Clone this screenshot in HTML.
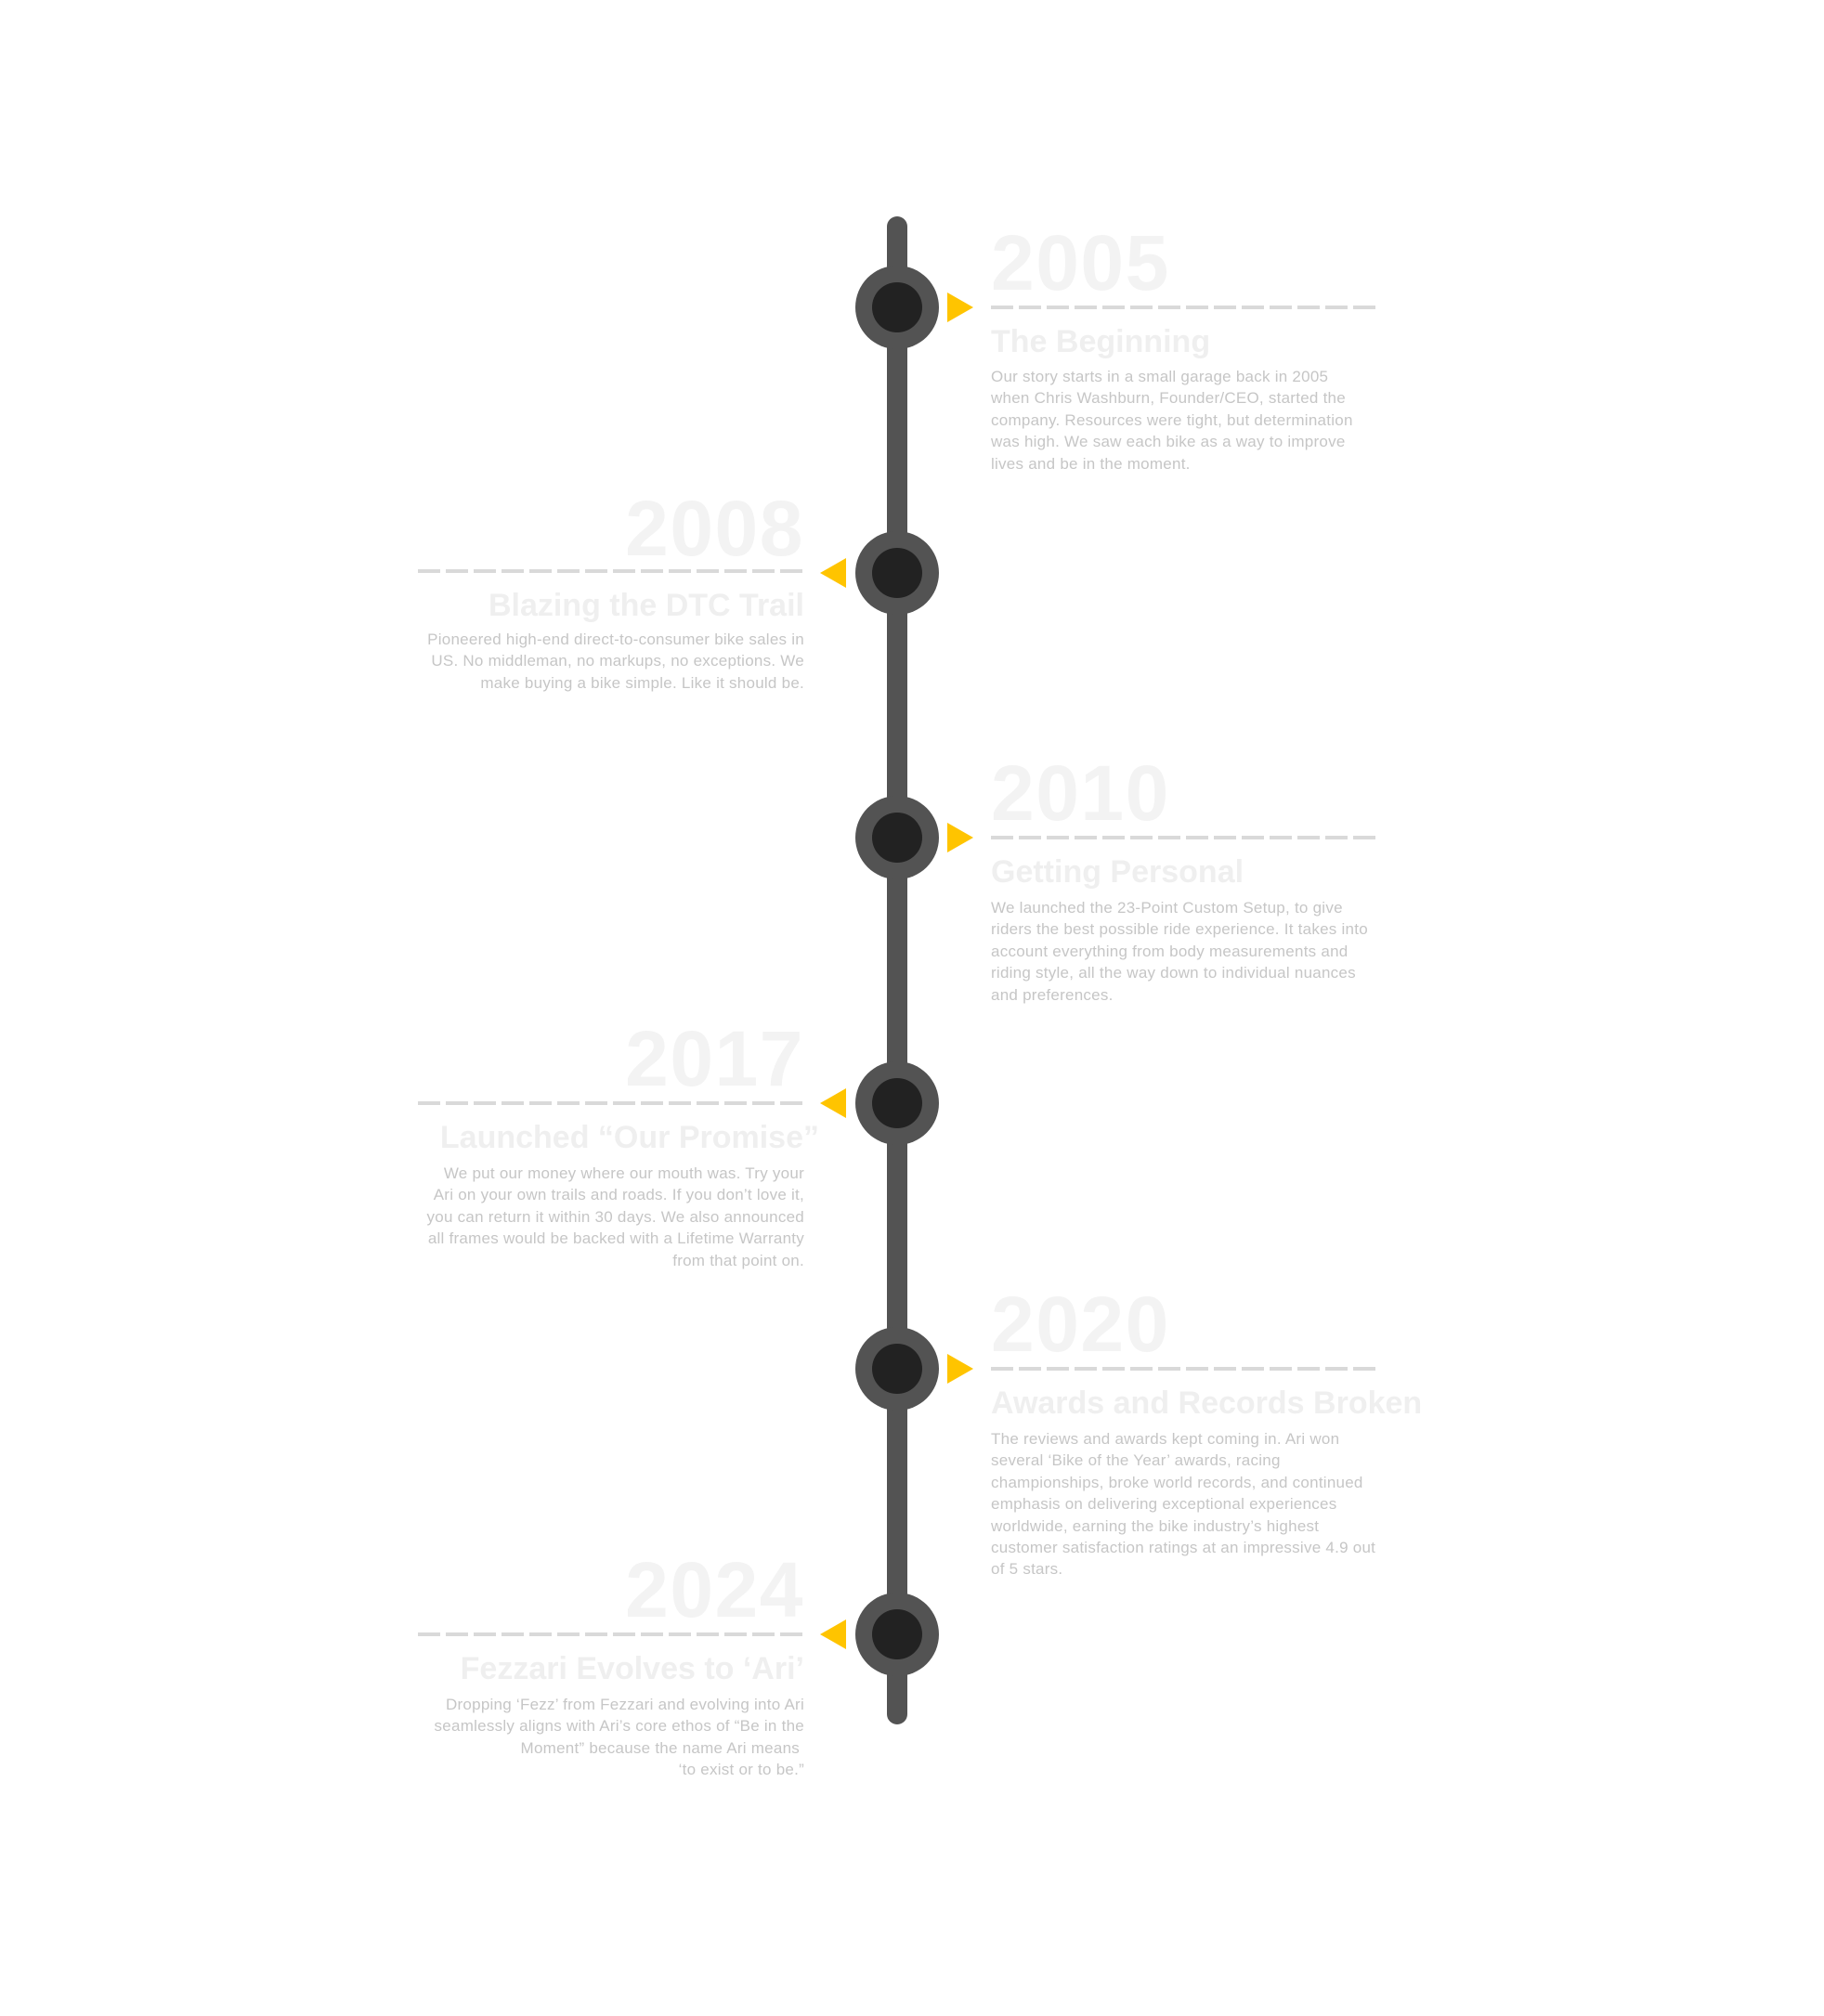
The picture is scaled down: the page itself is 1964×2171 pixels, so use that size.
<!DOCTYPE html>
<html><head><meta charset="utf-8"><style>
html,body{margin:0;padding:0;background:#fff;}
body{width:1964px;height:2171px;position:relative;overflow:hidden;font-family:"Liberation Sans",sans-serif;}
.line{position:absolute;left:955px;top:233px;width:22px;height:1624px;background:#535353;border-radius:11px;}
.dot{position:absolute;width:90px;height:90px;border-radius:50%;background:#535353;left:921px;}
.dot:after{content:"";position:absolute;left:18px;top:18px;width:54px;height:54px;border-radius:50%;background:#222;}
.tr{position:absolute;width:0;height:0;border-top:16px solid transparent;border-bottom:16px solid transparent;}
.tr.r{left:1020px;border-left:28px solid #ffc400;}
.tr.l{left:883px;border-right:28px solid #ffc400;}
.dash{position:absolute;height:4px;width:416px;background:repeating-linear-gradient(90deg,#d9d9d9 0 24px,transparent 24px 30px);}
.dash.r{left:1067px;}
.dash.l{left:450px;}
.yr{position:absolute;font-size:84px;font-weight:bold;line-height:1;color:#f3f3f3;letter-spacing:1.5px;white-space:nowrap;}
.tt{position:absolute;font-size:34px;font-weight:bold;line-height:1;color:#efefef;white-space:nowrap;}
.bd{position:absolute;font-size:17px;letter-spacing:0.25px;line-height:23.4px;color:#c6c6c6;white-space:nowrap;}
.R{left:1067px;text-align:left;}
.L{right:1098px;text-align:right;}
</style></head><body>
<div class="line"></div>

<div class="dot" style="top:286px"></div><div class="tr r" style="top:315px"></div><div class="dash r" style="top:329px"></div>
<div class="yr R" style="top:241px">2005</div>
<div class="tt R" style="top:351px">The Beginning</div>
<div class="bd R" style="top:394px">Our story starts in a small garage back in 2005<br>when Chris Washburn, Founder/CEO, started the<br>company. Resources were tight, but determination<br>was high. We saw each bike as a way to improve<br>lives and be in the moment.</div>

<div class="dot" style="top:572px"></div><div class="tr l" style="top:601px"></div><div class="dash l" style="top:613px"></div>
<div class="yr L" style="top:527px">2008</div>
<div class="tt L" style="top:635px">Blazing the DTC Trail</div>
<div class="bd L" style="top:677px">Pioneered high-end direct-to-consumer bike sales in<br>US. No middleman, no markups, no exceptions. We<br>make buying a bike simple. Like it should be.</div>

<div class="dot" style="top:857px"></div><div class="tr r" style="top:886px"></div><div class="dash r" style="top:900px"></div>
<div class="yr R" style="top:812px">2010</div>
<div class="tt R" style="top:922px">Getting Personal</div>
<div class="bd R" style="top:966px">We launched the 23-Point Custom Setup, to give<br>riders the best possible ride experience. It takes into<br>account everything from body measurements and<br>riding style, all the way down to individual nuances<br>and preferences.</div>

<div class="dot" style="top:1143px"></div><div class="tr l" style="top:1172px"></div><div class="dash l" style="top:1186px"></div>
<div class="yr L" style="top:1098px">2017</div>
<div class="tt" style="top:1208px;right:1082px;text-align:right">Launched “Our Promise”</div>
<div class="bd L" style="top:1252px">We put our money where our mouth was. Try your<br>Ari on your own trails and roads. If you don’t love it,<br>you can return it within 30 days. We also announced<br>all frames would be backed with a Lifetime Warranty<br>from that point on.</div>

<div class="dot" style="top:1429px"></div><div class="tr r" style="top:1458px"></div><div class="dash r" style="top:1472px"></div>
<div class="yr R" style="top:1384px">2020</div>
<div class="tt R" style="top:1494px">Awards and Records Broken</div>
<div class="bd R" style="top:1538px">The reviews and awards kept coming in. Ari won<br>several ‘Bike of the Year’ awards, racing<br>championships, broke world records, and continued<br>emphasis on delivering exceptional experiences<br>worldwide, earning the bike industry’s highest<br>customer satisfaction ratings at an impressive 4.9 out<br>of 5 stars.</div>

<div class="dot" style="top:1715px"></div><div class="tr l" style="top:1744px"></div><div class="dash l" style="top:1758px"></div>
<div class="yr L" style="top:1670px">2024</div>
<div class="tt L" style="top:1780px">Fezzari Evolves to ‘Ari’</div>
<div class="bd L" style="top:1824px">Dropping ‘Fezz’ from Fezzari and evolving into Ari<br>seamlessly aligns with Ari’s core ethos of “Be in the<br>Moment” because the name Ari means&nbsp;<br>‘to exist or to be.”</div>
</body></html>
